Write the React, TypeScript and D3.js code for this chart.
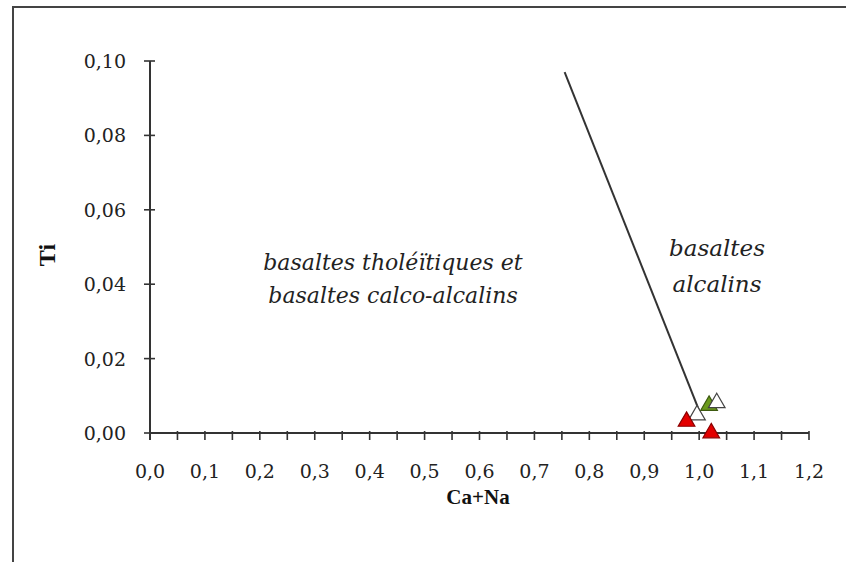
import { useEffect, useRef } from 'react';
import * as d3 from 'd3';

// axis ticks
const xTicks = [0, 0.1, 0.2, 0.3, 0.4, 0.5, 0.6, 0.7, 0.8, 0.9, 1.0, 1.1, 1.2];
const xMinor = [0.05, 0.15, 0.25, 0.35, 0.45, 0.55, 0.65, 0.75, 0.85, 0.95, 1.05, 1.15];
const yTicks = [0, 0.02, 0.04, 0.06, 0.08, 0.1];

// samples (Ca+Na, Ti)
const whiteA = [[0.996, 0.0048]];
const greenPts = [[1.018, 0.0074]];
const whiteB = [[1.032, 0.0081]];
const redPts = [[0.977, 0.0031], [1.022, 0.0]];

// boundary between the two fields
const boundary = [[0.755, 0.097], [1.0, 0.006]];

const fmt = (v: number, digits: number) => v.toFixed(digits).replace('.', ',');

const App = () => {
  const svgRef = useRef<SVGSVGElement>(null);

  useEffect(() => {
    const svg = d3.select(svgRef.current);
    svg.selectAll('*').remove();

    const x = d3.scaleLinear().domain([0, 1.2]).range([150, 809]);
    const y = d3.scaleLinear().domain([0, 0.1]).range([433, 61]);

    // frame
    svg.append('path')
      .attr('d', 'M13,562 L13,7 L846,7')
      .attr('fill', 'none')
      .attr('stroke', '#444')
      .attr('stroke-width', 2);

    const axisColor = '#333';

    // x axis
    svg.append('line')
      .attr('x1', x(0)).attr('x2', x(1.2))
      .attr('y1', y(0)).attr('y2', y(0))
      .attr('stroke', axisColor).attr('stroke-width', 2);
    svg.append('g').selectAll('line')
      .data([...xTicks, ...xMinor])
      .enter()
      .append('line')
      .attr('x1', (d) => x(d)).attr('x2', (d) => x(d))
      .attr('y1', y(0) - 2).attr('y2', y(0) + 7)
      .attr('stroke', axisColor).attr('stroke-width', 1.6);
    svg.append('g').selectAll('text')
      .data(xTicks)
      .enter()
      .append('text')
      .attr('x', (d) => x(d))
      .attr('y', 478)
      .attr('text-anchor', 'middle')
      .attr('font-family', 'DejaVu Serif')
      .attr('font-size', 19)
      .attr('fill', '#222')
      .text((d) => fmt(d, 1));

    // y axis
    svg.append('line')
      .attr('x1', x(0)).attr('x2', x(0))
      .attr('y1', y(0.1)).attr('y2', y(0) + 7)
      .attr('stroke', axisColor).attr('stroke-width', 2);
    svg.append('g').selectAll('line')
      .data(yTicks)
      .enter()
      .append('line')
      .attr('x1', x(0) - 6).attr('x2', (d) => (d === 0 ? x(0) : x(0) + 5))
      .attr('y1', (d) => y(d)).attr('y2', (d) => y(d))
      .attr('stroke', axisColor).attr('stroke-width', 1.6);
    svg.append('g').selectAll('text')
      .data(yTicks)
      .enter()
      .append('text')
      .attr('x', 126)
      .attr('y', (d) => y(d) + 7)
      .attr('text-anchor', 'end')
      .attr('font-family', 'DejaVu Serif')
      .attr('font-size', 19)
      .attr('fill', '#222')
      .text((d) => fmt(d, 2));

    // axis titles
    svg.append('text')
      .attr('x', 478).attr('y', 504)
      .attr('text-anchor', 'middle')
      .attr('font-family', 'Liberation Serif')
      .attr('font-weight', 'bold')
      .attr('font-size', 21)
      .attr('fill', '#111')
      .text('Ca+Na');
    svg.append('text')
      .attr('transform', 'translate(55,255) rotate(-90)')
      .attr('text-anchor', 'middle')
      .attr('font-family', 'Liberation Serif')
      .attr('font-weight', 'bold')
      .attr('font-size', 24)
      .attr('fill', '#111')
      .text('Ti');

    // field labels
    const label = (tx: number, ty: number, lines: string[], gap: number, size: number) => {
      const t = svg.append('text')
        .attr('font-family', 'DejaVu Serif')
        .attr('font-style', 'italic')
        .attr('font-size', size)
        .attr('fill', '#222')
        .attr('text-anchor', 'middle');
      lines.forEach((s, i) => {
        t.append('tspan').attr('x', tx).attr('y', ty + i * gap).text(s);
      });
    };
    label(393, 270, ['basaltes tholéïtiques et', 'basaltes calco-alcalins'], 33, 22);
    label(717, 256, ['basaltes', 'alcalins'], 36, 23);

    // boundary line
    svg.append('path')
      .attr('d', d3.line()(boundary.map((p) => [x(p[0]), y(p[1])] as [number, number])))
      .attr('fill', 'none')
      .attr('stroke', '#333')
      .attr('stroke-width', 2);

    // markers
    const tri = d3.symbol().type(d3.symbolTriangle).size(120);
    const drawPts = (pts: number[][], fill: string, stroke: string) => {
      svg.append('g').selectAll('path')
        .data(pts)
        .enter()
        .append('path')
        .attr('d', tri)
        .attr('transform', (d) => `translate(${x(d[0])},${y(d[1])})`)
        .attr('fill', fill)
        .attr('stroke', stroke)
        .attr('stroke-width', 1.2);
    };
    drawPts(whiteA, '#fff', '#444');
    drawPts(greenPts, '#6b9a1c', '#3d5a10');
    drawPts(whiteB, '#fff', '#444');
    drawPts(redPts, '#e30000', '#8a0000');
  }, []);

  return (
    <svg
      ref={svgRef}
      width={846}
      height={562}
      style={{ position: 'absolute', left: 0, top: 0, background: '#fff' }}
    />
  );
};

export default App;
